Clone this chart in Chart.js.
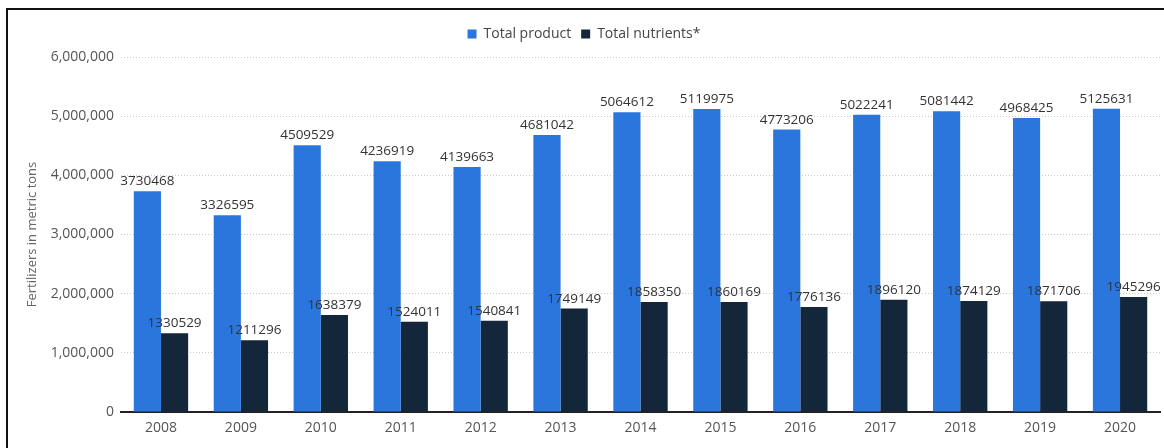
<!DOCTYPE html>
<html>
<head>
<meta charset="utf-8">
<title>Fertilizers in metric tons</title>
<script src="https://cdn.jsdelivr.net/npm/chart.js@4/dist/chart.umd.min.js"></script>
<style>
    html, body { margin: 0; padding: 0; background: #fff; overflow: hidden; }
    #frame {
        position: absolute;
        left: 6px;
        top: 8px;
        width: 1156px;
        height: 438px;
        border-left: 2px solid #111;
        border-top: 2px solid #111;
    }
    #chart-box { position: relative; width: 1156px; height: 438px; }
</style>
</head>
<body>
<div id="frame">
    <div id="chart-box"><canvas id="fert-chart"></canvas></div>
</div>
<script>
// Chart data
const years = ['2008', '2009', '2010', '2011', '2012', '2013', '2014', '2015', '2016', '2017', '2018', '2019', '2020'];
const totalProduct = [3730468, 3326595, 4509529, 4236919, 4139663, 4681042, 5064612, 5119975, 4773206, 5022241, 5081442, 4968425, 5125631];
const totalNutrients = [1330529, 1211296, 1638379, 1524011, 1540841, 1749149, 1858350, 1860169, 1776136, 1896120, 1874129, 1871706, 1945296];
const seriesNames = ['Total product', 'Total nutrients*'];
const yTicks = [0, 1000000, 2000000, 3000000, 4000000, 5000000, 6000000];

const FONT = '"Open Sans", "Noto Sans", sans-serif';

// Value labels above each bar
const valueLabels = {
    id: 'valueLabels',
    afterDatasetsDraw(chart) {
        const ctx = chart.ctx;
        ctx.save();
        ctx.font = '13.5px ' + FONT;
        ctx.fillStyle = '#333';
        ctx.textAlign = 'center';
        ctx.textBaseline = 'bottom';
        chart.data.datasets.forEach(function(ds, i) {
            const meta = chart.getDatasetMeta(i);
            meta.data.forEach(function(bar, j) {
                ctx.fillText(String(ds.data[j]), bar.x, bar.y - 3);
            });
        });
        ctx.restore();
    }
};

// Extra room under the legend
const legendGap = {
    id: 'legendGap',
    beforeInit(chart) {
        const origFit = chart.legend.fit;
        chart.legend.fit = function() {
            origFit.bind(chart.legend)();
            this.height += 6;
        };
    }
};

const chart = new Chart(document.getElementById('fert-chart'), {
    type: 'bar',
    data: {
        labels: years,
        datasets: [{
            label: seriesNames[0],
            data: totalProduct,
            backgroundColor: '#2a76dd'
        }, {
            label: seriesNames[1],
            data: totalNutrients,
            backgroundColor: '#14263a'
        }]
    },
    options: {
        responsive: true,
        maintainAspectRatio: false,
        animation: false,
        layout: { padding: { top: 7, right: 4, left: 0, bottom: 0 } },
        datasets: {
            bar: { categoryPercentage: 0.68, barPercentage: 1.0 }
        },
        plugins: {
            legend: {
                position: 'top',
                labels: {
                    boxWidth: 9,
                    boxHeight: 9,
                    padding: 10,
                    color: '#444',
                    font: { family: FONT, size: 14 }
                }
            },
            tooltip: { enabled: false }
        },
        scales: {
            x: {
                grid: { display: false, drawTicks: false },
                border: { display: true, color: '#222', width: 2 },
                ticks: {
                    color: '#555',
                    padding: 8,
                    font: { family: FONT, size: 14 }
                },
                afterFit(scale) { scale.height = 36; }
            },
            y: {
                min: 0,
                max: 6000000,
                afterBuildTicks(scale) {
                    scale.ticks = yTicks.map(function(v) { return { value: v }; });
                },
                grid: { color: '#c8c8c8', drawTicks: false, lineWidth: 1 },
                border: { display: false, dash: [1, 2] },
                ticks: {
                    color: '#555',
                    padding: 7,
                    font: { family: FONT, size: 14 }
                    ,
                    callback: function(v) { return v.toLocaleString('en-US'); }
                },
                title: {
                    display: true,
                    text: 'Fertilizers in metric tons',
                    color: '#666',
                    padding: { top: 16, bottom: 0 },
                    font: { family: FONT, size: 13 }
                },
                afterFit(scale) { scale.width = 113; }
            }
        }
    },
    plugins: [valueLabels, legendGap]
});
</script>
</body>
</html>
